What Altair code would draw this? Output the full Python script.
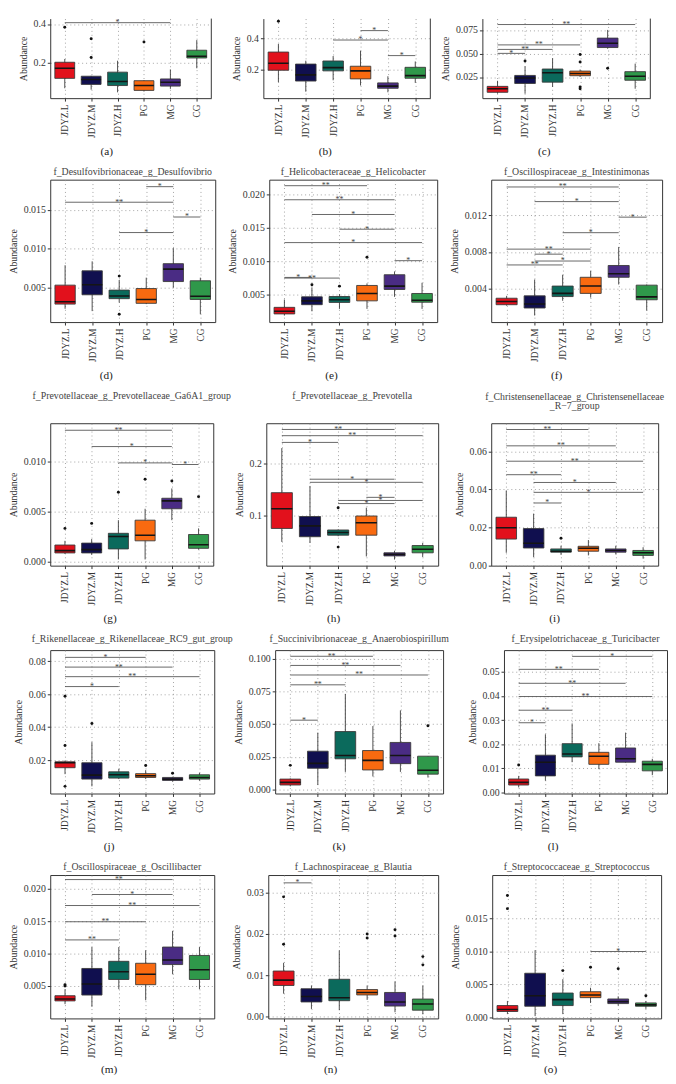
import altair as alt
import pandas as pd

GROUPS = ["JDYZ.L", "JDYZ.M", "JDYZ.H", "PG", "MG", "CG"]
COLORS = ["#E2111C", "#100F4F", "#0B6A5C", "#F96A10", "#4A2C84", "#2F984A"]
FONT = "Liberation Serif"

# ---------------- (a) ----------------
A_LO = [0.069, 0.062, 0.048, 0.052, 0.066, 0.172]
A_Q1 = [0.120, 0.089, 0.083, 0.058, 0.080, 0.225]
A_MED = [0.172, 0.114, 0.104, 0.083, 0.100, 0.234]
A_Q3 = [0.203, 0.131, 0.152, 0.108, 0.117, 0.265]
A_HI = [0.220, 0.133, 0.211, 0.110, 0.166, 0.317]
A_OUT = [("JDYZ.L", 0.383), ("JDYZ.M", 0.324), ("JDYZ.M", 0.228), ("PG", 0.308)]
A_SIG = [("JDYZ.L", "MG", 0.407, "*")]

# ---------------- (b) ----------------
B_LO = [0.118, 0.056, 0.130, 0.096, 0.052, 0.113]
B_Q1 = [0.195, 0.125, 0.191, 0.139, 0.078, 0.143]
B_MED = [0.240, 0.165, 0.212, 0.191, 0.092, 0.160]
B_Q3 = [0.313, 0.235, 0.255, 0.221, 0.113, 0.214]
B_HI = [0.365, 0.257, 0.287, 0.322, 0.156, 0.252]
B_OUT = [("JDYZ.L", 0.513)]
B_SIG = [("PG", "MG", 0.452, "*"), ("JDYZ.H", "MG", 0.391, "*"), ("MG", "CG", 0.290, "*")]

# ---------------- (c) ----------------
C_LO = [0.0074, 0.0074, 0.0145, 0.0250, 0.0550, 0.0126]
C_Q1 = [0.0088, 0.0182, 0.0196, 0.0264, 0.0563, 0.0216]
C_MED = [0.0126, 0.0239, 0.0296, 0.0287, 0.0608, 0.0259]
C_Q3 = [0.0151, 0.0267, 0.0335, 0.0313, 0.0663, 0.0307]
C_HI = [0.0210, 0.0364, 0.0450, 0.0330, 0.0750, 0.0392]
C_OUT = [("JDYZ.M", 0.042), ("PG", 0.049), ("PG", 0.041), ("PG", 0.0145), ("PG", 0.0126), ("MG", 0.0344)]
C_SIG = [("JDYZ.L", "CG", 0.0807, "**"), ("JDYZ.L", "PG", 0.0591, "**"),
         ("JDYZ.L", "JDYZ.H", 0.0543, "**"), ("JDYZ.L", "JDYZ.M", 0.0501, "*")]

# ---------------- (d) ----------------
D_LO = [0.0023, 0.0020, 0.0031, 0.0029, 0.0050, 0.0016]
D_Q1 = [0.0029, 0.0041, 0.0036, 0.0030, 0.0058, 0.0035]
D_MED = [0.0032, 0.0054, 0.00395, 0.0035, 0.0074, 0.0039]
D_Q3 = [0.00534, 0.00718, 0.0047, 0.0049, 0.0081, 0.0059]
D_HI = [0.0079, 0.0084, 0.0060, 0.0063, 0.0101, 0.0063]
D_OUT = [("JDYZ.H", 0.0065), ("JDYZ.H", 0.0016)]
D_SIG = [("PG", "MG", 0.0180, "*"), ("JDYZ.L", "MG", 0.0160, "**"),
         ("MG", "CG", 0.0141, "*"), ("JDYZ.H", "MG", 0.0121, "*")]

# ---------------- (e) ----------------
E_LO = [0.0019, 0.00254, 0.0029, 0.0029, 0.0047, 0.0029]
E_Q1 = [0.00215, 0.00353, 0.00387, 0.0041, 0.0058, 0.0039]
E_MED = [0.00254, 0.0041, 0.00426, 0.0052, 0.0063, 0.0042]
E_Q3 = [0.00313, 0.0047, 0.00475, 0.0064, 0.0080, 0.0052]
E_HI = [0.0043, 0.0061, 0.0051, 0.0067, 0.0085, 0.0068]
E_OUT = [("JDYZ.M", 0.0065), ("JDYZ.H", 0.0063), ("PG", 0.0106)]
E_SIG = [("JDYZ.L", "PG", 0.0213, "**"), ("JDYZ.L", "MG", 0.0192, "**"),
         ("JDYZ.M", "MG", 0.0170, "*"), ("JDYZ.H", "MG", 0.0148, "*"),
         ("JDYZ.L", "CG", 0.0128, "*"), ("MG", "CG", 0.0101, "*"),
         ("JDYZ.L", "JDYZ.M", 0.0076, "*"), ("JDYZ.L", "JDYZ.H", 0.0075, "**")]

# ---------------- (f) ----------------
F_LO = [0.00211, 0.00104, 0.00265, 0.0030, 0.00443, 0.00158]
F_Q1 = [0.00222, 0.00186, 0.00311, 0.00346, 0.00522, 0.00276]
F_MED = [0.00257, 0.00229, 0.00346, 0.00426, 0.00561, 0.00308]
F_Q3 = [0.00293, 0.00319, 0.00426, 0.00522, 0.00651, 0.00436]
F_HI = [0.00319, 0.00497, 0.0055, 0.00593, 0.00854, 0.00443]
F_OUT = []
F_SIG = [("JDYZ.L", "MG", 0.0151, "**"), ("JDYZ.M", "MG", 0.0135, "*"),
         ("MG", "CG", 0.0118, "*"), ("JDYZ.H", "MG", 0.0101, "*"),
         ("JDYZ.L", "PG", 0.0083, "**"), ("JDYZ.M", "JDYZ.H", 0.00775, "*"),
         ("JDYZ.M", "PG", 0.0070, "*"), ("JDYZ.L", "JDYZ.H", 0.00657, "**")]

# ---------------- (g) ----------------
G_LO = [0.00075, 0.00066, 0.0002, 0.0002, 0.00412, 0.00118]
G_Q1 = [0.00085, 0.00085, 0.00125, 0.00206, 0.00526, 0.00131]
G_MED = [0.00108, 0.00118, 0.00249, 0.00262, 0.00605, 0.00167]
G_Q3 = [0.00164, 0.00183, 0.00281, 0.00412, 0.00631, 0.00269]
G_HI = [0.00206, 0.00223, 0.00412, 0.00526, 0.00729, 0.0033]
G_OUT = [("JDYZ.L", 0.0033), ("JDYZ.M", 0.0038), ("JDYZ.H", 0.0069), ("PG", 0.0082),
         ("MG", 0.00804), ("CG", 0.00647)]
G_SIG = [("JDYZ.L", "MG", 0.0131, "**"), ("JDYZ.M", "MG", 0.01147, "*"),
         ("JDYZ.H", "MG", 0.00984, "*"), ("MG", "CG", 0.00968, "*")]

# ---------------- (h) ----------------
H_LO = [0.049, 0.047, 0.060, 0.021, 0.015, 0.020]
H_Q1 = [0.075, 0.059, 0.062, 0.062, 0.022, 0.028]
H_MED = [0.113, 0.080, 0.067, 0.086, 0.025, 0.035]
H_Q3 = [0.144, 0.098, 0.072, 0.099, 0.028, 0.042]
H_HI = [0.230, 0.157, 0.073, 0.115, 0.032, 0.047]
H_OUT = [("JDYZ.H", 0.115), ("JDYZ.H", 0.039)]
H_SIG = [("JDYZ.L", "MG", 0.266, "**"), ("JDYZ.L", "CG", 0.254, "**"),
         ("JDYZ.L", "JDYZ.H", 0.241, "*"), ("JDYZ.M", "MG", 0.170, "*"),
         ("JDYZ.M", "CG", 0.164, "*"), ("PG", "MG", 0.135, "*"),
         ("JDYZ.H", "CG", 0.129, "*"), ("JDYZ.H", "MG", 0.123, "*")]

# ---------------- (i) ----------------
I_LO = [0.0066, 0.0043, 0.0055, 0.0052, 0.0057, 0.0035]
I_Q1 = [0.0138, 0.0091, 0.0069, 0.0074, 0.0069, 0.0052]
I_MED = [0.0198, 0.0116, 0.0074, 0.0090, 0.0078, 0.0066]
I_Q3 = [0.0253, 0.0193, 0.0086, 0.0100, 0.0086, 0.0078]
I_HI = [0.0393, 0.0272, 0.0103, 0.0133, 0.0103, 0.0095]
I_OUT = [("JDYZ.H", 0.0142)]
I_SIG = [("JDYZ.L", "PG", 0.0715, "**"), ("JDYZ.L", "MG", 0.0629, "**"),
         ("JDYZ.L", "CG", 0.0548, "**"), ("JDYZ.L", "JDYZ.H", 0.0477, "**"),
         ("JDYZ.M", "MG", 0.0436, "*"), ("JDYZ.M", "CG", 0.0384, "*"),
         ("JDYZ.M", "JDYZ.H", 0.0328, "*")]

# ---------------- (j) ----------------
J_LO = [0.0115, 0.0041, 0.0085, 0.0085, 0.0069, 0.0075]
J_Q1 = [0.0154, 0.0085, 0.0091, 0.0095, 0.0077, 0.0085]
J_MED = [0.0184, 0.0109, 0.0111, 0.0105, 0.0085, 0.0095]
J_Q3 = [0.0190, 0.0184, 0.0129, 0.0118, 0.0095, 0.0111]
J_HI = [0.0198, 0.0309, 0.0148, 0.0139, 0.0099, 0.0124]
J_OUT = [("JDYZ.L", 0.0587), ("JDYZ.L", 0.0289), ("JDYZ.L", 0.0041), ("JDYZ.M", 0.0422),
         ("PG", 0.0168), ("MG", 0.0121)]
J_SIG = [("JDYZ.L", "PG", 0.0823, "*"), ("JDYZ.L", "MG", 0.0764, "**"),
         ("JDYZ.L", "CG", 0.0706, "**"), ("JDYZ.L", "JDYZ.H", 0.0646, "*")]

# ---------------- (k) ----------------
K_LO = [0.0025, 0.0035, 0.0135, 0.0100, 0.0135, 0.0092]
K_Q1 = [0.0035, 0.0163, 0.0235, 0.0150, 0.0198, 0.0118]
K_MED = [0.0055, 0.0200, 0.0260, 0.0223, 0.0260, 0.0148]
K_Q3 = [0.0080, 0.0293, 0.0443, 0.0298, 0.0360, 0.0255]
K_HI = [0.0085, 0.0435, 0.0730, 0.0485, 0.0605, 0.0255]
K_OUT = [("JDYZ.L", 0.0185), ("CG", 0.0488)]
K_SIG = [("JDYZ.L", "PG", 0.1018, "**"), ("JDYZ.L", "MG", 0.0948, "**"),
         ("JDYZ.L", "CG", 0.0875, "**"), ("JDYZ.L", "JDYZ.H", 0.0800, "**"),
         ("JDYZ.L", "JDYZ.M", 0.0530, "*")]

# ---------------- (l) ----------------
L_LO = [0.0020, 0.0048, 0.0125, 0.0096, 0.0123, 0.0071]
L_Q1 = [0.0030, 0.0068, 0.0147, 0.0116, 0.0125, 0.0089]
L_MED = [0.0041, 0.0125, 0.0159, 0.0150, 0.0139, 0.0116]
L_Q3 = [0.0055, 0.0154, 0.0202, 0.0166, 0.0184, 0.0129]
L_HI = [0.0068, 0.0241, 0.0286, 0.0204, 0.0248, 0.0139]
L_OUT = [("JDYZ.L", 0.0113)]
L_SIG = [("JDYZ.H", "CG", 0.0565, "*"), ("JDYZ.L", "PG", 0.0511, "**"),
         ("JDYZ.L", "MG", 0.0453, "**"), ("JDYZ.L", "CG", 0.0398, "**"),
         ("JDYZ.L", "JDYZ.H", 0.0341, "**"), ("JDYZ.L", "JDYZ.M", 0.0289, "*")]

# ---------------- (m) ----------------
M_LO = [0.0022, 0.0018, 0.0045, 0.0028, 0.0068, 0.0045]
M_Q1 = [0.0027, 0.0036, 0.0060, 0.0052, 0.0083, 0.0060]
M_MED = [0.0030, 0.0053, 0.0072, 0.0068, 0.0090, 0.0075]
M_Q3 = [0.0035, 0.0077, 0.0088, 0.0085, 0.0110, 0.0097]
M_HI = [0.0045, 0.0110, 0.0110, 0.0105, 0.0135, 0.0110]
M_OUT = [("JDYZ.L", 0.0050), ("JDYZ.L", 0.0052)]
M_SIG = [("JDYZ.L", "MG", 0.0214, "**"), ("JDYZ.M", "MG", 0.0191, "*"),
         ("JDYZ.L", "CG", 0.0174, "**"), ("JDYZ.L", "PG", 0.0149, "**"),
         ("JDYZ.L", "JDYZ.H", 0.0121, "**")]

# ---------------- (n) ----------------
N_LO = [0.0055, 0.0018, 0.0015, 0.0040, 0.0010, 0.0005]
N_Q1 = [0.0075, 0.0035, 0.0038, 0.0052, 0.0025, 0.0015]
N_MED = [0.0088, 0.0048, 0.0045, 0.0058, 0.0035, 0.0030]
N_Q3 = [0.0110, 0.0067, 0.0090, 0.0065, 0.0058, 0.0042]
N_HI = [0.0130, 0.0075, 0.0160, 0.0075, 0.0085, 0.0075]
N_OUT = [("JDYZ.L", 0.0175), ("JDYZ.L", 0.0290), ("PG", 0.0190), ("PG", 0.0200),
         ("MG", 0.0195), ("MG", 0.0210), ("CG", 0.0125), ("CG", 0.0145)]
N_SIG = [("JDYZ.L", "JDYZ.M", 0.0324, "*")]

# ---------------- (o) ----------------
O_LO = [0.0005, 0.0002, 0.0005, 0.0022, 0.0018, 0.0013]
O_Q1 = [0.0009, 0.0017, 0.0018, 0.0030, 0.0021, 0.0017]
O_MED = [0.0012, 0.0033, 0.0027, 0.0034, 0.0024, 0.0019]
O_Q3 = [0.0018, 0.0067, 0.0037, 0.0039, 0.0028, 0.0022]
O_HI = [0.0025, 0.0102, 0.0058, 0.0045, 0.0032, 0.0025]
O_OUT = [("JDYZ.L", 0.0165), ("JDYZ.L", 0.0185), ("JDYZ.H", 0.0071), ("PG", 0.0076),
         ("MG", 0.0074), ("CG", 0.0033)]
O_SIG = [("PG", "CG", 0.0100, "*")]

LABEL_EXPR = "['JDYZ.L','JDYZ.M','JDYZ.H','PG','MG','CG'][datum.value - 1]"


def panel(title, caption, stats, out, sig, dom, ticks, fmt, w, h, toff, capx, capy=48,
          top_row=False):
    lo, q1, med, q3, hi = stats
    idx = {g: i + 1 for i, g in enumerate(GROUPS)}
    box = pd.DataFrame({"group": GROUPS, "pos": [idx[g] for g in GROUPS],
                        "lo": lo, "q1": q1, "med": med, "q3": q3, "hi": hi})
    box["x1"] = box["pos"] - 0.375
    box["x2"] = box["pos"] + 0.375
    xs = alt.Scale(domain=[0.45, 6.55], nice=False, zero=False)
    ys = alt.Scale(domain=dom, nice=False, zero=False)
    xax = alt.Axis(values=[1, 2, 3, 4, 5, 6], labelExpr=LABEL_EXPR, title=caption,
                   labelAngle=270, labelAlign="right", labelBaseline="middle",
                   labelPadding=3, labelFlush=False, labelOverlap=False, labelFontSize=9.5,
                   titleFontSize=11.5, titleX=capx, titleY=capy, titleAlign="center",
                   titleBaseline="top", titleColor="#222", domain=top_row, grid=True)
    yax = alt.Axis(values=ticks, format=fmt, title="Abundance", labelFlush=False,
                   labelOverlap=False, labelPadding=2, titlePadding=5, domain=top_row,
                   grid=True)

    def X(f):
        return alt.X(f, type="quantitative", scale=xs, axis=xax)

    def Y(f):
        return alt.Y(f, type="quantitative", scale=ys, axis=yax)

    base = alt.Chart(box)
    layers = [
        base.mark_rule(color="#3a3a3a", strokeWidth=0.9, clip=True).encode(
            x=X("pos"), y=Y("lo"), y2="hi"),
        base.mark_bar(stroke="#3a3a3a", strokeWidth=0.9, clip=True).encode(
            x=X("x1"), x2="x2", y=Y("q1"), y2="q3",
            color=alt.Color("group:N", scale=alt.Scale(domain=GROUPS, range=COLORS), legend=None)),
        base.mark_rule(color="#151515", strokeWidth=1.6, clip=True).encode(
            x=X("x1"), x2="x2", y=Y("med")),
    ]
    if out:
        odf = pd.DataFrame(out, columns=["group", "v"])
        odf["pos"] = odf["group"].map(idx)
        layers.append(alt.Chart(odf).mark_circle(size=9, color="#111", opacity=1, clip=True)
                      .encode(x=X("pos"), y=Y("v")))
    if sig:
        sdf = pd.DataFrame(sig, columns=["g1", "g2", "v", "lab"])
        sdf["p1"] = sdf["g1"].map(idx)
        sdf["p2"] = sdf["g2"].map(idx)
        sdf["pm"] = (sdf["p1"] + sdf["p2"]) / 2
        layers.append(alt.Chart(sdf).mark_rule(color="#555", strokeWidth=0.9, clip=True)
                      .encode(x=X("p1"), x2="p2", y=Y("v")))
        layers.append(alt.Chart(sdf).mark_text(font=FONT, fontSize=8, color="#444",
                                               baseline="alphabetic", dy=2.5, clip=True)
                      .encode(x=X("pm"), y=Y("v"), text="lab:N"))
    if top_row:
        layers.append(alt.Chart(pd.DataFrame({"k": [0]})).mark_rule(color="#333", strokeWidth=1)
                      .encode(x=alt.value(w), y=alt.value(0), y2=alt.value(h)))
    props = dict(width=w, height=h)
    if title:
        props["title"] = alt.TitleParams(text=title, offset=toff, fontSize=10, font=FONT,
                                         color="#444", fontWeight="normal", anchor="middle",
                                         frame="group", lineHeight=10)
    if top_row:
        props["view"] = alt.ViewBackground(stroke="transparent")
    return alt.layer(*layers).properties(**props)


pa = panel(None, "(a)", (A_LO, A_Q1, A_MED, A_Q3, A_HI), A_OUT, A_SIG, [0.018, 0.428],
           [0.2, 0.4], ".1f", 164, 81, 0, 57, top_row=True)
pb = panel(None, "(b)", (B_LO, B_Q1, B_MED, B_Q3, B_HI), B_OUT, B_SIG, [0.014, 0.53],
           [0.2, 0.4], ".1f", 170, 81, 0, 62.5, top_row=True)
pc = panel(None, "(c)", (C_LO, C_Q1, C_MED, C_Q3, C_HI), C_OUT, C_SIG, [0.0026, 0.087],
           [0.025, 0.05, 0.075], ".3f", 171, 81, 0, 62.5, top_row=True)

pd_ = panel("f_Desulfovibrionaceae_g_Desulfovibrio", "(d)", (D_LO, D_Q1, D_MED, D_Q3, D_HI),
            D_OUT, D_SIG, [0.00059, 0.0189], [0.005, 0.010, 0.015], ".3f", 168, 145, 3, 56.5)
pe = panel("f_Helicobacteraceae_g_Helicobacter", "(e)", (E_LO, E_Q1, E_MED, E_Q3, E_HI),
           E_OUT, E_SIG, [0.00093, 0.0222], [0.005, 0.010, 0.015, 0.020], ".3f", 171, 145, 3, 63)
pf = panel("f_Oscillospiraceae_g_Intestinimonas", "(f)", (F_LO, F_Q1, F_MED, F_Q3, F_HI),
           F_OUT, F_SIG, [0.00032, 0.0159], [0.004, 0.008, 0.012], ".3f", 174, 145, 3, 66)

pg = panel("f_Prevotellaceae_g_Prevotellaceae_Ga6A1_group", "(g)", (G_LO, G_Q1, G_MED, G_Q3, G_HI),
           G_OUT, G_SIG, [-0.00042, 0.0138], [0.0, 0.005, 0.010], ".3f", 166, 145, 23, 60.5)
ph = panel("f_Prevotellaceae_g_Prevotella", "(h)", (H_LO, H_Q1, H_MED, H_Q3, H_HI),
           H_OUT, H_SIG, [0.0032, 0.278], [0.1, 0.2], ".1f", 175, 145, 23, 68)
pi = panel(["f_Christensenellaceae_g_Christensenellaceae", "_R\u22127_group"], "(i)",
           (I_LO, I_Q1, I_MED, I_Q3, I_HI), I_OUT, I_SIG, [-0.0002, 0.0748],
           [0.0, 0.02, 0.04, 0.06], ".2f", 170, 145, 12, 64)

pj = panel("f_Rikenellaceae_g_Rikenellaceae_RC9_gut_group", "(j)", (J_LO, J_Q1, J_MED, J_Q3, J_HI),
           J_OUT, J_SIG, [-0.00024, 0.0867], [0.02, 0.04, 0.06, 0.08], ".2f", 167, 146, 6, 59.5)
pk = panel("f_Succinivibrionaceae_g_Anaerobiospirillum", "(k)", (K_LO, K_Q1, K_MED, K_Q3, K_HI),
           K_OUT, K_SIG, [-0.003, 0.1065], [0.0, 0.025, 0.05, 0.075, 0.1], ".3f", 171, 146, 6, 64.5)
pl = panel("f_Erysipelotrichaceae_g_Turicibacter", "(l)", (L_LO, L_Q1, L_MED, L_Q3, L_HI),
           L_OUT, L_SIG, [-0.00053, 0.0591], [0.0, 0.01, 0.02, 0.03, 0.04, 0.05], ".2f",
           166, 146, 6, 49.5)

pm = panel("f_Oscillospiraceae_g_Oscillibacter", "(m)", (M_LO, M_Q1, M_MED, M_Q3, M_HI),
           M_OUT, M_SIG, [0.0, 0.0221], [0.005, 0.010, 0.015, 0.020], ".3f", 167, 146, 3.5,
           59.5, capy=46)
pn = panel("f_Lachnospiraceae_g_Blautia", "(n)", (N_LO, N_Q1, N_MED, N_Q3, N_HI),
           N_OUT, N_SIG, [-0.0005, 0.0343], [0.0, 0.01, 0.02, 0.03], ".2f", 173, 146, 3.5,
           63, capy=46)
po = panel("f_Streptococcaceae_g_Streptococcus", "(o)", (O_LO, O_Q1, O_MED, O_Q3, O_HI),
           O_OUT, O_SIG, [-0.00015, 0.0216], [0.0, 0.005, 0.010, 0.015], ".3f", 172, 146, 3.5,
           59, capy=46)

row1 = alt.hconcat(pa, pb, pc, spacing=53, bounds="flush")
row2 = alt.hconcat(pd_, pe, pf, spacing=55, bounds="flush")
row3 = alt.hconcat(pg, ph, pi, spacing=54, bounds="flush")
row4 = alt.hconcat(pj, pk, pl, spacing=62, bounds="flush")
row5 = alt.hconcat(pm, pn, po, spacing=55, bounds="flush")

chart = (
    alt.concat(row1, row2, row3, row4, row5, columns=1, align="none", spacing=9, bounds="full")
    .properties(padding=0, background="white")
    .configure_view(stroke="#333", strokeWidth=1)
    .configure_axis(labelFont=FONT, titleFont=FONT, labelColor="#333", titleColor="#333",
                    titleFontWeight="normal", labelFontSize=10, titleFontSize=10,
                    tickColor="#333", tickSize=3, gridColor="#8c8c8c", gridDash=[1, 3],
                    gridWidth=0.8, domainColor="#333", domainWidth=1)
    .configure_title(font=FONT, fontWeight="normal")
)

chart.save("out.html", embed_options={"renderer": "svg", "actions": False})
